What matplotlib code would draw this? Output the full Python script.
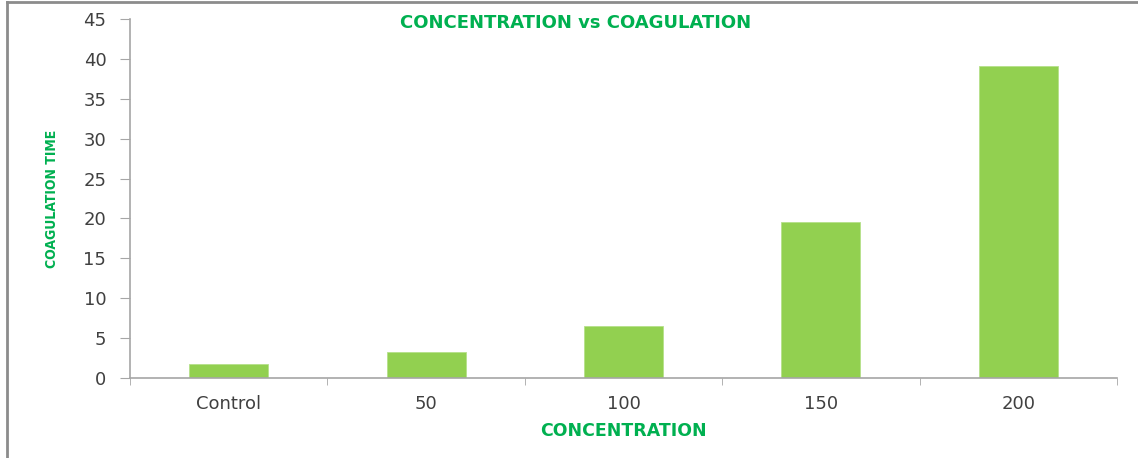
#!/usr/bin/env python3
# Bar chart of coagulation time against concentration.

import matplotlib
matplotlib.use("Agg")
from matplotlib import pyplot as plt
from matplotlib.lines import Line2D
import numpy as np

plt.rcParams["font.family"] = "DejaVu Sans"

categories = ["Control", "50", "100", "150", "200"]
coagulation_time = [1.75, 3.3, 6.5, 19.5, 39.15]
y_ticks = [0, 5, 10, 15, 20, 25, 30, 35, 40, 45]

BAR_COLOR = "#92D050"
TEXT_GREEN = "#00B050"
AXIS_GRAY = "#A6A6A6"
LABEL_GRAY = "#404040"


def main():
    fig = plt.figure(figsize=(11.38, 4.58), dpi=100)
    ax = fig.add_axes([0.1142, 0.1747, 0.9816 - 0.1142, 0.9585 - 0.1747])

    x = np.arange(len(categories))
    ax.bar(x, coagulation_time, width=0.40, color=BAR_COLOR,
           edgecolor="#B5E08A", linewidth=0.6, zorder=2)

    ax.set_xlim(-0.5, len(categories) - 0.5)
    ax.set_ylim(0, 45)
    ax.set_yticks(y_ticks)
    ax.set_yticklabels([str(t) for t in y_ticks], fontsize=13,
                       color=LABEL_GRAY)

    # labels at bar centres, tick marks on the category boundaries
    ax.set_xticks(x)
    ax.set_xticklabels(categories, fontsize=13, color=LABEL_GRAY)
    ax.set_xticks(np.arange(len(categories) + 1) - 0.5, minor=True)
    ax.tick_params(axis="x", which="major", length=0, pad=12)
    ax.tick_params(axis="x", which="minor", length=5, color=AXIS_GRAY,
                   direction="out")
    ax.tick_params(axis="y", length=7, color=AXIS_GRAY, direction="out",
                   pad=10)

    for side in ("top", "right"):
        ax.spines[side].set_visible(False)
    for side in ("left", "bottom"):
        ax.spines[side].set_color(AXIS_GRAY)
        ax.spines[side].set_linewidth(1.2)

    fig.text(0.506, 0.95, "CONCENTRATION vs COAGULATION", ha="center",
             va="center", fontsize=13, fontweight="bold", color=TEXT_GREEN)
    fig.text(0.5475, 0.059, "CONCENTRATION", ha="center", va="center",
             fontsize=12.5, fontweight="bold", color=TEXT_GREEN)
    fig.text(0.046, 0.566, "COAGULATION TIME", ha="center", va="center",
             rotation=90, fontsize=10, fontweight="bold", color=TEXT_GREEN,
             fontstretch="condensed")

    # frame line along the top and left edges
    fig.add_artist(Line2D([0.0062, 0.0062], [0, 0.995], color="#8C8C8C",
                          linewidth=2, transform=fig.transFigure))
    fig.add_artist(Line2D([0.0062, 1], [0.995, 0.995], color="#8C8C8C",
                          linewidth=2, transform=fig.transFigure))

    fig.savefig("out.png", dpi=100)
    plt.close(fig)


if __name__ == "__main__":
    main()
